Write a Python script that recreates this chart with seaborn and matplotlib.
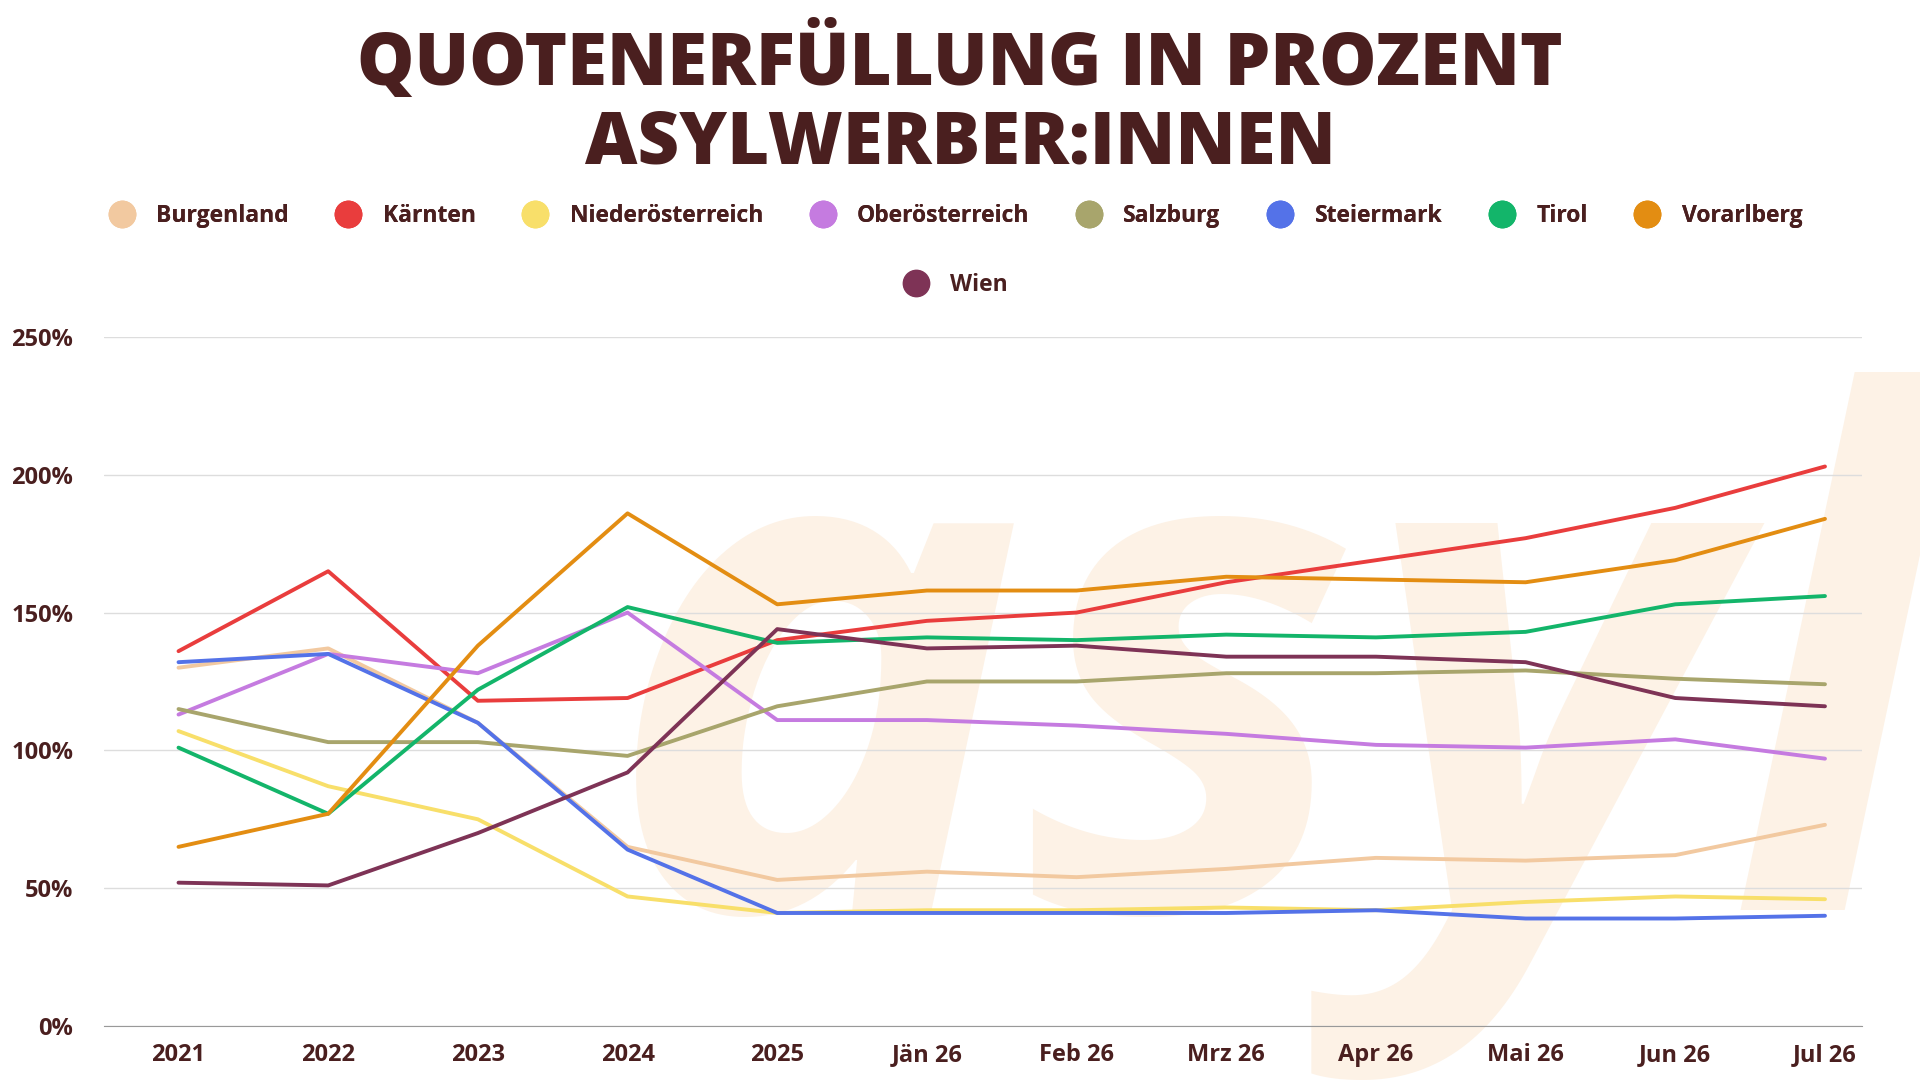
import matplotlib
matplotlib.use("Agg")
import matplotlib.pyplot as plt
from matplotlib.lines import Line2D
from matplotlib.ticker import FuncFormatter
import seaborn as sns
import pandas as pd

periods = ["2021", "2022", "2023", "2024", "2025", "Jän 26", "Feb 26", "Mrz 26",
           "Apr 26", "Mai 26", "Jun 26", "Jul 26"]
burgenland = [130, 137, 110, 65, 53, 56, 54, 57, 61, 60, 62, 73]
kaernten = [136, 165, 118, 119, 140, 147, 150, 161, 169, 177, 188, 203]
niederoesterreich = [107, 87, 75, 47, 41, 42, 42, 43, 42, 45, 47, 46]
oberoesterreich = [113, 135, 128, 150, 111, 111, 109, 106, 102, 101, 104, 97]
salzburg = [115, 103, 103, 98, 116, 125, 125, 128, 128, 129, 126, 124]
steiermark = [132, 135, 110, 64, 41, 41, 41, 41, 42, 39, 39, 40]
tirol = [101, 77, 122, 152, 139, 141, 140, 142, 141, 143, 153, 156]
vorarlberg = [65, 77, 138, 186, 153, 158, 158, 163, 162, 161, 169, 184]
wien = [52, 51, 70, 92, 144, 137, 138, 134, 134, 132, 119, 116]

series = {
    "Burgenland": burgenland, "Kärnten": kaernten, "Niederösterreich": niederoesterreich,
    "Oberösterreich": oberoesterreich, "Salzburg": salzburg, "Steiermark": steiermark,
    "Tirol": tirol, "Vorarlberg": vorarlberg, "Wien": wien,
}
colors = {
    "Burgenland": "#f2c9a0", "Kärnten": "#e93d3d", "Niederösterreich": "#f8df6a",
    "Oberösterreich": "#c57be0", "Salzburg": "#a8a56c", "Steiermark": "#5472e8",
    "Tirol": "#13b56a", "Vorarlberg": "#e38d12", "Wien": "#7e3356",
}
dark = "#4a1f1f"

rows = []
for name, vals in series.items():
    for i, v in enumerate(vals):
        rows.append({"region": name, "x": i, "value": v})
df = pd.DataFrame(rows)

sns.set_style("white")
plt.rcParams["font.family"] = ["Open Sans", "DejaVu Sans"]

fig = plt.figure(figsize=(19.2, 10.8), dpi=100)
ax = fig.add_axes([0.054, 0.05, 0.916, 0.638])

# decorative watermark behind the lines
fig.text(1.01, 0.0, "asyl", fontsize=510, fontweight="bold",
         style="italic", color="#fdf2e6", ha="right", va="bottom", zorder=0)

sns.lineplot(df, x="x", y="value", hue="region", palette=colors, linewidth=2.8,
             ax=ax, legend=False, zorder=3)
ax.set_facecolor("none")
ax.set_zorder(2)

ax.set_xlim(-0.5, 11.25)
ax.set_ylim(0, 250)
ax.set_yticks([0, 50, 100, 150, 200, 250])
ax.yaxis.set_major_formatter(FuncFormatter(lambda v, p: f"{int(v)}%"))
ax.set_xticks(range(len(periods)))
ax.set_xticklabels(periods)
ax.grid(axis="y", color="#dddddd", linewidth=1)
ax.set_xlabel("")
ax.set_ylabel("")
for s in ["top", "right", "left"]:
    ax.spines[s].set_visible(False)
ax.spines["bottom"].set_color("#999999")
ax.tick_params(axis="x", length=0, labelsize=17, labelcolor=dark, pad=12)
ax.tick_params(axis="y", length=0, labelsize=17, labelcolor=dark, pad=22)
for lab in ax.get_xticklabels() + ax.get_yticklabels():
    lab.set_fontweight("bold")

fig.text(0.5, 0.943, "QUOTENERFÜLLUNG IN PROZENT", ha="center", va="center",
         fontsize=52, fontweight="heavy", color=dark)
fig.text(0.5, 0.866, "ASYLWERBER:INNEN", ha="center", va="center",
         fontsize=52, fontweight="heavy", color=dark)

names = list(series.keys())
handles = [Line2D([], [], linestyle="", marker="o", markersize=19,
                  color=colors[n]) for n in names]
leg1 = fig.legend(handles[:8], names[:8], loc="center", bbox_to_anchor=(0.495, 0.80),
                  ncol=8, frameon=False, fontsize=16.5, columnspacing=1.6, handletextpad=0.5)
leg2 = fig.legend(handles[8:], names[8:], loc="center", bbox_to_anchor=(0.495, 0.736),
                  ncol=1, frameon=False, fontsize=16.5, handletextpad=0.5)
for leg in (leg1, leg2):
    for t in leg.get_texts():
        t.set_color(dark)
        t.set_fontweight("bold")
fig.add_artist(leg1)

fig.savefig("out.png", dpi=100)
